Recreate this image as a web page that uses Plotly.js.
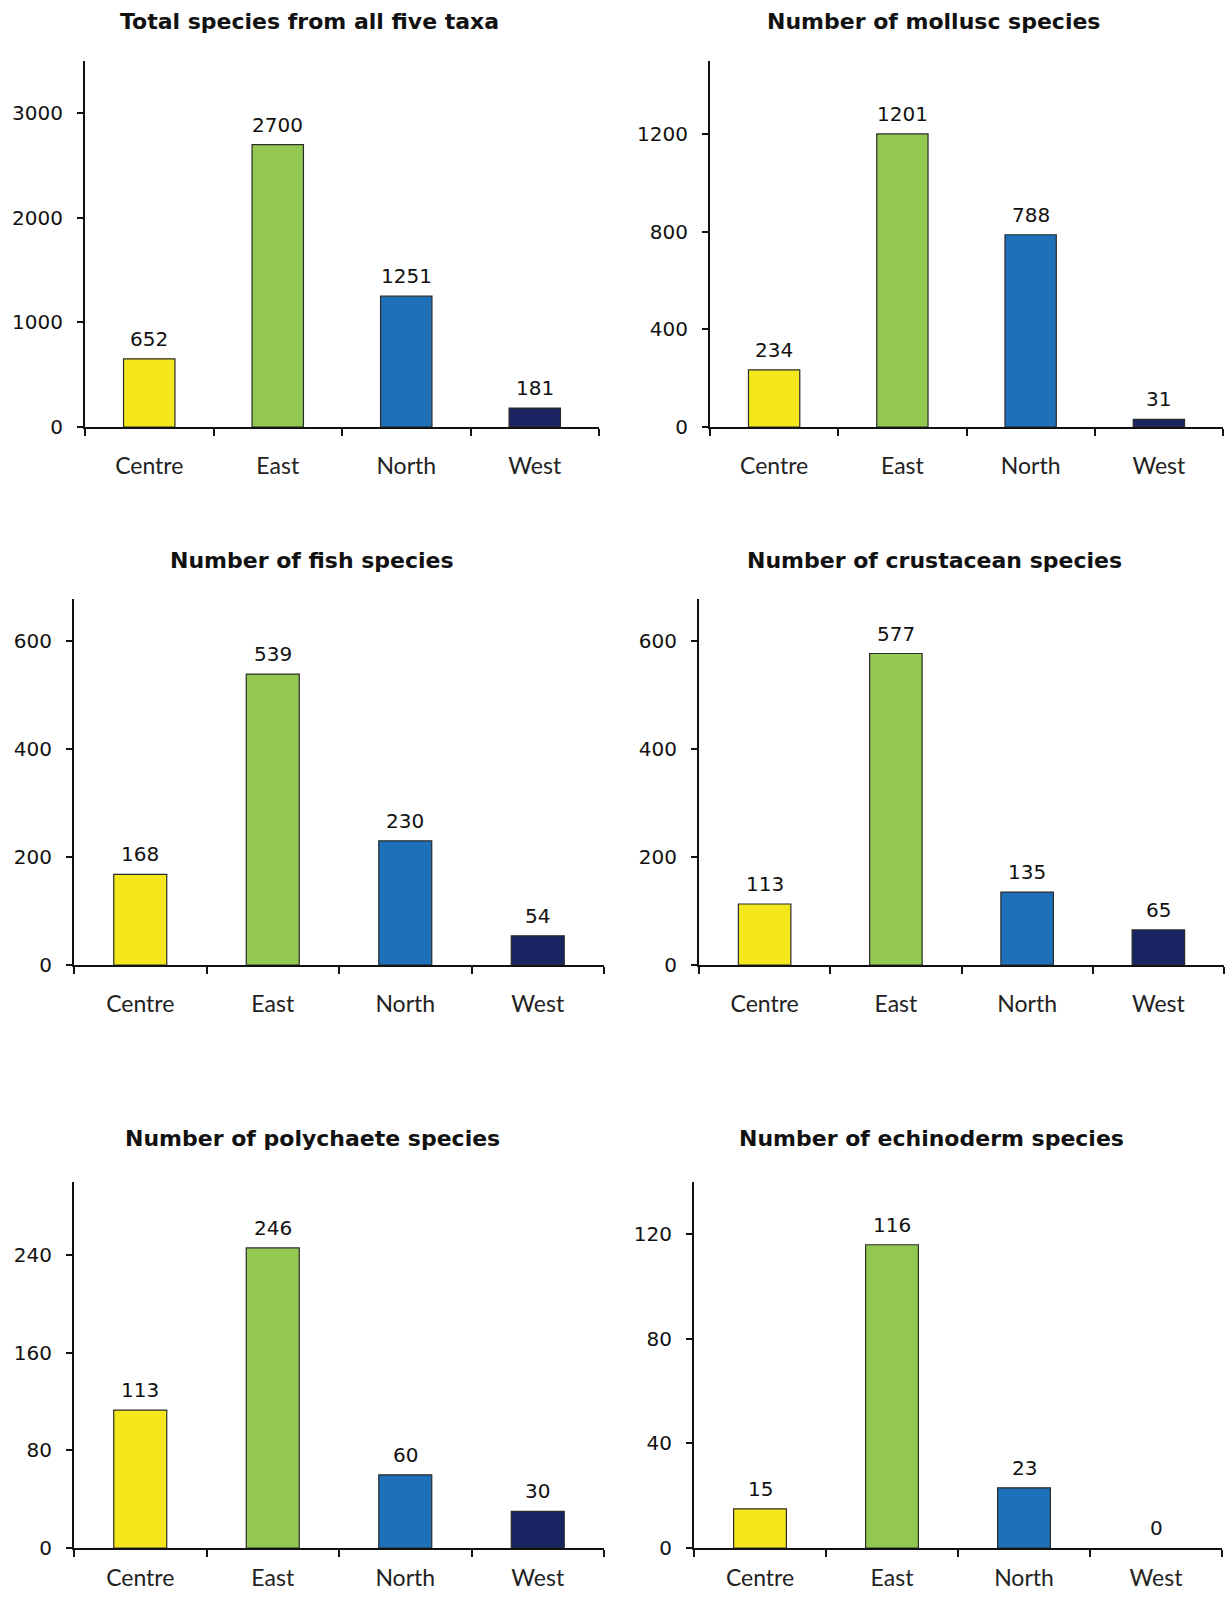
<!DOCTYPE html>
<html>
<head>
<meta charset="utf-8">
<script src="https://cdn.plot.ly/plotly-3.0.1.min.js"></script>
<style>
  html, body { margin: 0; padding: 0; background: #ffffff; }
  #chart { width: 1227px; height: 1598px; }
</style>
</head>
<body>
<div id="chart"></div>
<script>
// ---- Data ----
const categories = ['Centre', 'East', 'North', 'West'];
const totalSpecies = [652, 2700, 1251, 181];
const molluscSpecies = [234, 1201, 788, 31];
const fishSpecies = [168, 539, 230, 54];
const crustaceanSpecies = [113, 577, 135, 65];
const polychaeteSpecies = [113, 246, 60, 30];
const echinodermSpecies = [15, 116, 23, 0];
const panelTitles = [
  'Total species from all five taxa',
  'Number of mollusc species',
  'Number of fish species',
  'Number of crustacean species',
  'Number of polychaete species',
  'Number of echinoderm species'
];
const yTickValues = [
  [0, 1000, 2000, 3000],
  [0, 400, 800, 1200],
  [0, 200, 400, 600],
  [0, 200, 400, 600],
  [0, 80, 160, 240],
  [0, 40, 80, 120]
];
const yMax = [3500, 1500, 678, 678, 300, 140];
const seriesList = [totalSpecies, molluscSpecies, fishSpecies, crustaceanSpecies, polychaeteSpecies, echinodermSpecies];

// ---- Styles / layout geometry (pixels) ----
const W = 1227, H = 1598;
const barColors = ['#F4E81C', '#93C852', '#1E70B8', '#1B2462'];
// [x0, x1, yTop, yBottom] plot areas in pixels
const boxes = [
  [85, 599, 61, 427],
  [710, 1223, 61, 427],
  [74, 604, 599, 965],
  [699, 1224, 599, 965],
  [74, 604, 1182, 1548],
  [694, 1222, 1182, 1548]
];
const catStandoff = [17, 17, 17, 17, 8, 8];
const titlePos = [[309, 22], [933, 22], [312, 560], [934, 560], [312, 1138], [931, 1138]];

const tickFont = { family: 'DejaVu Sans, Arial, sans-serif', size: 20, color: '#111111' };
const catFont = { family: 'Lato, Open Sans, sans-serif', size: 23, color: '#222222' };
const titleFont = { family: 'DejaVu Sans, Arial, sans-serif', size: 22, color: '#111111', weight: 'bold' };
const labelFont = { family: 'DejaVu Sans, Arial, sans-serif', size: 20, color: '#111111' };

const traces = [];
const layout = {
  width: W, height: H,
  margin: { l: 0, r: 0, t: 0, b: 0 },
  paper_bgcolor: '#ffffff',
  plot_bgcolor: '#ffffff',
  showlegend: false,
  bargap: 0.6,
  annotations: []
};

seriesList.forEach((vals, i) => {
  const n = i + 1;
  const xa = n === 1 ? 'x' : 'x' + n;
  const ya = n === 1 ? 'y' : 'y' + n;
  traces.push({
    type: 'bar',
    x: categories,
    y: vals,
    xaxis: xa,
    yaxis: ya,
    marker: {
      color: barColors,
      line: { color: '#2b2b2b', width: vals.map(v => (v > 0 ? 1.2 : 0)) }
    },
    hoverinfo: 'x+y'
  });
  const b = boxes[i];
  const xKey = n === 1 ? 'xaxis' : 'xaxis' + n;
  const yKey = n === 1 ? 'yaxis' : 'yaxis' + n;
  layout[xKey] = {
    domain: [b[0] / W, b[1] / W],
    anchor: ya,
    type: 'category',
    range: [-0.5, 3.5],
    showline: true, linecolor: '#111', linewidth: 2,
    ticks: 'outside', tickson: 'boundaries', ticklen: 7, tickwidth: 2, tickcolor: '#111',
    showgrid: false, zeroline: false,
    tickfont: catFont,
    ticklabelstandoff: catStandoff[i],
    fixedrange: true
  };
  layout[yKey] = {
    domain: [1 - b[3] / H, 1 - b[2] / H],
    anchor: xa,
    range: [0, yMax[i]],
    tickmode: 'array',
    tickvals: yTickValues[i],
    ticktext: yTickValues[i].map(String),
    showline: true, linecolor: '#111', linewidth: 2,
    ticks: 'outside', ticklen: 6, tickwidth: 2, tickcolor: '#111',
    showgrid: false, zeroline: false,
    tickfont: tickFont,
    ticklabelstandoff: 10,
    fixedrange: true
  };
  // panel title
  layout.annotations.push({
    xref: 'paper', yref: 'paper',
    x: titlePos[i][0] / W, y: 1 - titlePos[i][1] / H,
    xanchor: 'center', yanchor: 'middle',
    text: panelTitles[i], showarrow: false, font: titleFont
  });
  // value labels
  vals.forEach((v, k) => {
    layout.annotations.push({
      xref: xa, yref: ya,
      x: categories[k], y: v,
      xanchor: 'center', yanchor: 'bottom',
      yshift: 6,
      text: String(v), showarrow: false, font: labelFont
    });
  });
});

Plotly.newPlot('chart', traces, layout, { staticPlot: true, displayModeBar: false });
</script>
</body>
</html>
